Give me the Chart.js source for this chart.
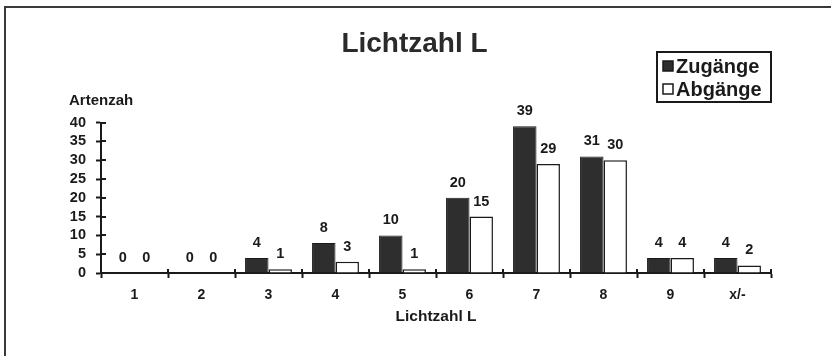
<!DOCTYPE html>
<html>
<head>
<meta charset="utf-8">
<script src="https://cdn.jsdelivr.net/npm/chart.js@4.4.1/dist/chart.umd.min.js"></script>
<style>
  html, body { margin: 0; padding: 0; background: #ffffff; }
  canvas { display: block; }
</style>
</head>
<body>
<canvas id="c" width="831" height="356"></canvas>
<script>
// Lichtzahl categories and species counts
const categories = ['1', '2', '3', '4', '5', '6', '7', '8', '9', 'x/-'];
const zugaenge = [0, 0, 4, 8, 10, 20, 39, 31, 4, 4];
const abgaenge = [0, 0, 1, 3, 1, 15, 29, 30, 4, 2];
const yTicks = [0, 5, 10, 15, 20, 25, 30, 35, 40];

const FONT = '"Liberation Sans", Arial, sans-serif';
const INK = '#1a1a1a';

// Page frame, inward tick marks, value labels, axis caption and legend box
const decorations = {
  id: 'decorations',
  afterDraw(chart) {
    const ctx = chart.ctx;
    const area = chart.chartArea;
    const xs = chart.scales.x, ys = chart.scales.y;
    ctx.save();

    // frame lines (top and left)
    ctx.strokeStyle = '#3a3a3a';
    ctx.lineWidth = 2;
    ctx.beginPath();
    ctx.moveTo(5, 356);
    ctx.lineTo(5, 7);
    ctx.lineTo(831, 7);
    ctx.stroke();

    // inward halves of tick marks
    ctx.strokeStyle = INK;
    ctx.lineWidth = 2;
    ctx.beginPath();
    yTicks.forEach(v => {
      const py = Math.round(ys.getPixelForValue(v));
      ctx.moveTo(area.left, py);
      ctx.lineTo(area.left + 5, py);
    });
    for (let i = 0; i <= categories.length; i++) {
      const px = Math.round(xs.getPixelForValue(i - 0.5));
      ctx.moveTo(px, area.bottom);
      ctx.lineTo(px, area.bottom - 4);
    }
    ctx.stroke();

    // value labels over the bars
    ctx.fillStyle = INK;
    ctx.font = 'bold 14.5px ' + FONT;
    ctx.textAlign = 'center';
    ctx.textBaseline = 'alphabetic';
    chart.data.datasets.forEach((ds, di) => {
      const meta = chart.getDatasetMeta(di);
      meta.data.forEach((bar, i) => {
        ctx.fillText(String(ds.data[i]), bar.x, bar.y - 11);
      });
    });

    // value axis caption
    ctx.font = 'bold 15px ' + FONT;
    ctx.textAlign = 'left';
    ctx.textBaseline = 'middle';
    ctx.fillText('Artenzah', 69, 101);

    // legend box
    const lx = 657, ly = 52, lw = 114, lh = 50;
    ctx.fillStyle = '#ffffff';
    ctx.fillRect(lx, ly, lw, lh);
    ctx.strokeStyle = INK;
    ctx.lineWidth = 2;
    ctx.strokeRect(lx, ly, lw, lh);
    ctx.font = 'bold 20px ' + FONT;
    chart.data.datasets.forEach((ds, di) => {
      const cy = ly + 14 + di * 23;
      ctx.fillStyle = ds.backgroundColor;
      ctx.fillRect(lx + 6, cy - 5, 10, 10);
      ctx.strokeStyle = INK;
      ctx.lineWidth = 1.5;
      ctx.strokeRect(lx + 6, cy - 5, 10, 10);
      ctx.fillStyle = INK;
      ctx.fillText(ds.label, lx + 19, cy + 1);
    });

    ctx.restore();
  }
};

new Chart(document.getElementById('c'), {
  type: 'bar',
  data: {
    labels: categories,
    datasets: [
      {
        label: 'Zugänge',
        data: zugaenge,
        backgroundColor: '#2e2e2e',
        borderColor: '#1a1a1a',
        borderWidth: 1
      },
      {
        label: 'Abgänge',
        data: abgaenge,
        backgroundColor: '#ffffff',
        borderColor: '#1a1a1a',
        borderWidth: 1.5
      }
    ]
  },
  options: {
    responsive: false,
    animation: false,
    devicePixelRatio: 1,
    layout: { padding: { left: 58, right: 60, top: 0, bottom: 30 } },
    datasets: {
      bar: { categoryPercentage: 0.7, barPercentage: 1.0 }
    },
    plugins: {
      legend: { display: false },
      tooltip: { enabled: false },
      title: {
        display: true,
        text: 'Lichtzahl L',
        color: '#2a2a2a',
        font: { family: FONT, size: 28, weight: 'bold', lineHeight: 1.2 },
        padding: { top: 27, bottom: 62 }
      }
    },
    scales: {
      x: {
        offset: true,
        grid: {
          offset: true,
          drawOnChartArea: false,
          drawTicks: true,
          tickLength: 5,
          tickWidth: 2,
          tickColor: INK
        },
        border: { display: true, color: INK, width: 2 },
        ticks: {
          color: INK,
          font: { family: FONT, size: 14, weight: 'bold' },
          padding: 9
        },
        title: {
          display: true,
          text: 'Lichtzahl L',
          color: INK,
          font: { family: FONT, size: 15.5, weight: 'bold' },
          padding: { top: 9, bottom: 0 }
        },
        afterFit(scale) { scale.height = 53; }
      },
      y: {
        min: 0,
        max: 40,
        afterBuildTicks(scale) { scale.ticks = yTicks.map(v => ({ value: v })); },
        grid: {
          drawOnChartArea: false,
          drawTicks: true,
          tickLength: 5,
          tickWidth: 2,
          tickColor: INK
        },
        border: { display: true, color: INK, width: 2 },
        ticks: {
          autoSkip: false,
          color: INK,
          font: { family: FONT, size: 14.5, weight: 'bold' },
          padding: 10
        },
        afterFit(scale) { scale.width = 43; }
      }
    }
  },
  plugins: [decorations]
});
</script>
</body>
</html>
